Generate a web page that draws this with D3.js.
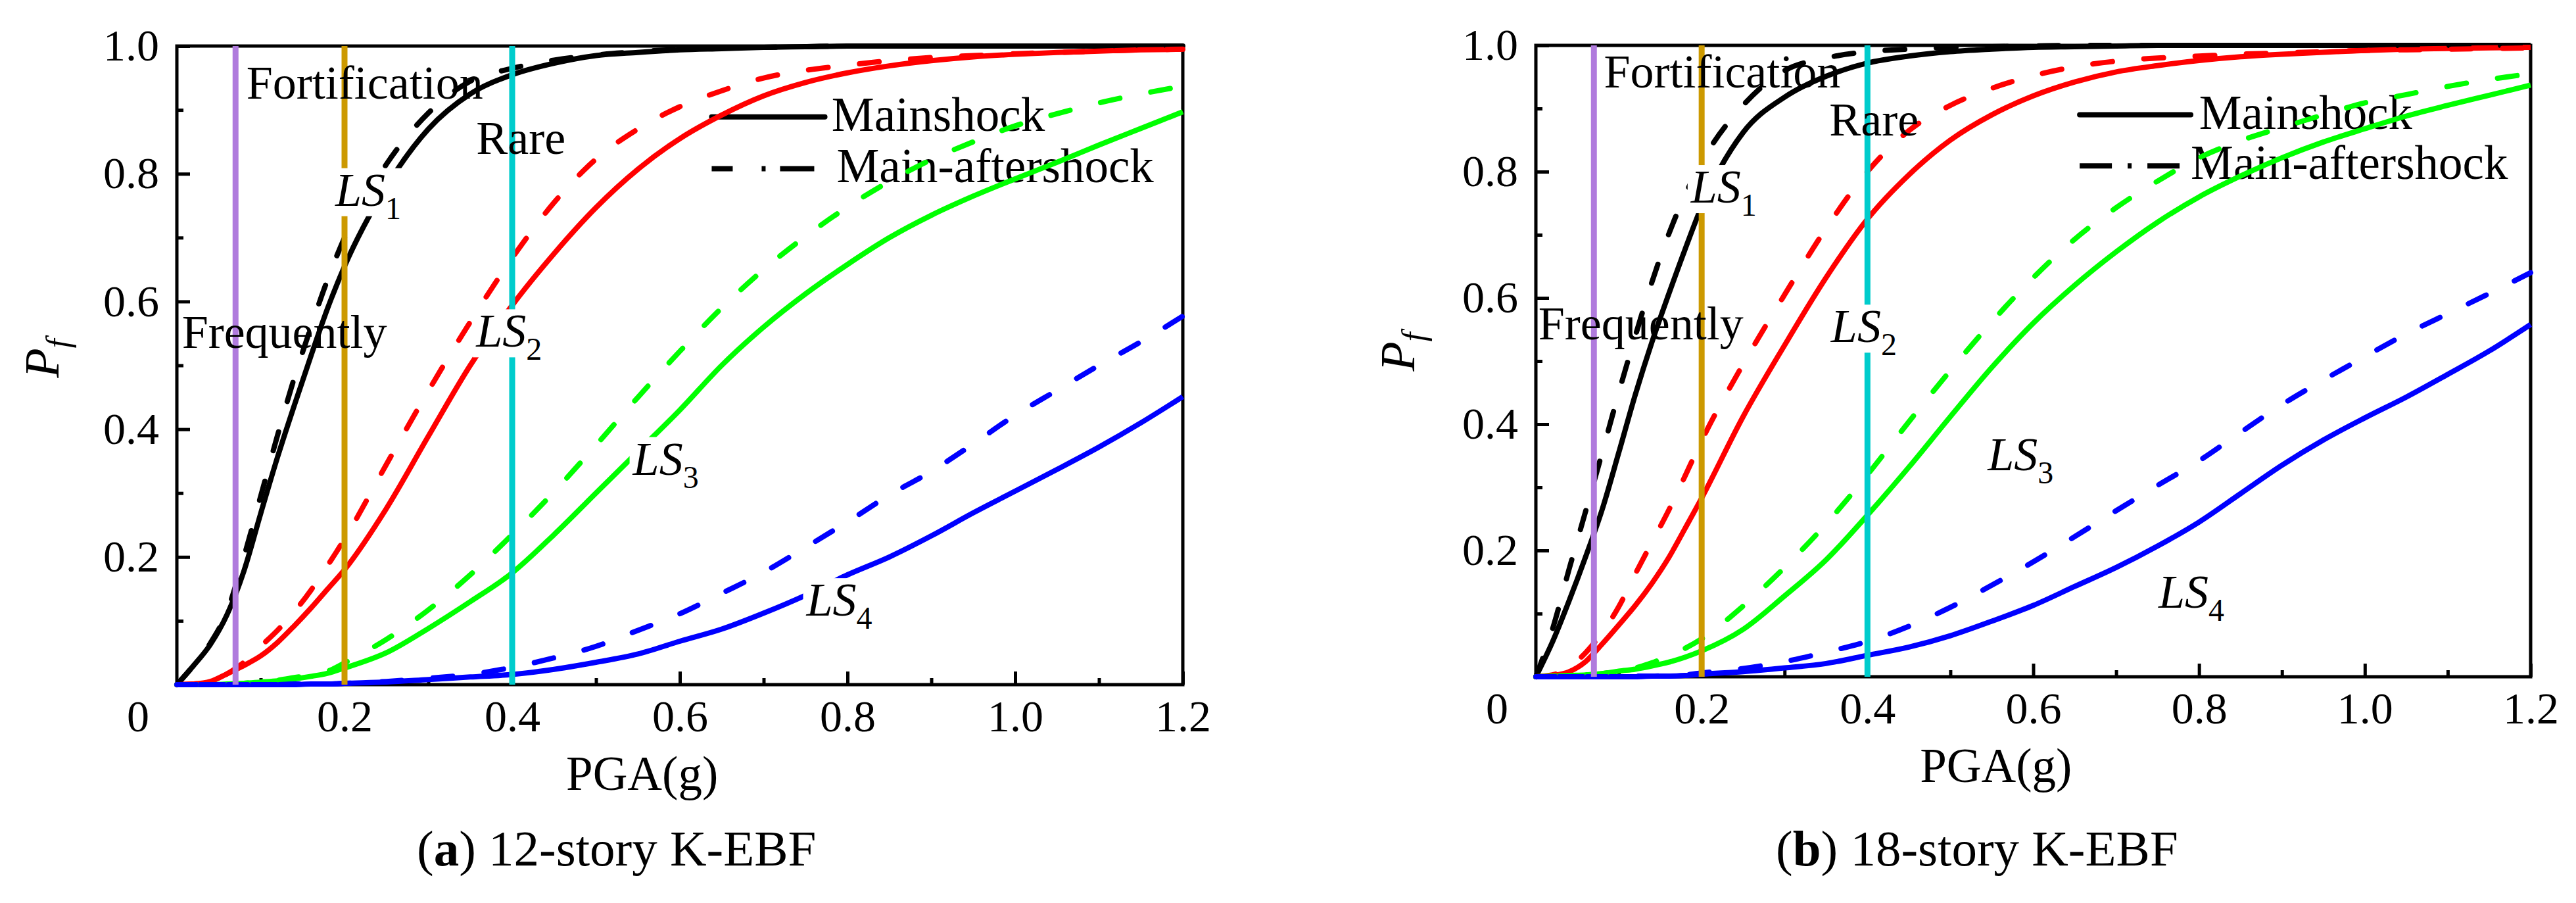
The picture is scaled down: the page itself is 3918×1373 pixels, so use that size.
<!DOCTYPE html>
<html>
<head>
<meta charset="utf-8">
<script src="https://cdn.jsdelivr.net/npm/d3@7"></script>
<style>
  html, body { margin: 0; padding: 0; background: #fff; }
  svg { display: block; }
  text { font-family: "Liberation Serif", "Times New Roman", serif; fill: #000; }
</style>
</head>
<body>
<svg id="chart" width="3918" height="1373"></svg>
<script>
// PGA grid (g) shared by every fragility curve
const pga = [0, 0.02, 0.04, 0.06, 0.08, 0.1, 0.12, 0.14, 0.16, 0.18, 0.2, 0.25, 0.3, 0.35, 0.4,
  0.45, 0.5, 0.55, 0.6, 0.65, 0.7, 0.75, 0.8, 0.85, 0.9, 0.95, 1.0, 1.05, 1.1, 1.15, 1.2];

// (a) 12-story K-EBF, exceedance probability
const a_ls1_main = [0, .03, .063, .11, .178, .268, .356, .437, .515, .59, .655, .78, .87, .925, .955, .973, .985, .99, .994, .996, .998, .999, 1, 1, 1, 1, 1, 1, 1, 1, 1];
const a_ls1_ma   = [0, .03, .065, .115, .2, .295, .39, .48, .56, .635, .70, .815, .895, .945, .965, .978, .986, .991, .995, .997, .998, .999, 1, 1, 1, 1, 1, 1, 1, 1, 1];
const a_ls2_main = [0, .001, .005, .017, .03, .045, .066, .092, .12, .15, .18, .276, .389, .5, .594, .675, .747, .807, .855, .892, .922, .943, .958, .969, .977, .983, .987, .99, .992, .994, .995];
const a_ls2_ma   = [0, .001, .005, .017, .035, .06, .085, .114, .148, .187, .228, .345, .46, .568, .668, .755, .823, .87, .905, .93, .95, .962, .97, .977, .982, .985, .988, .99, .992, .994, .995];
const a_ls3_main = [0, 0, 0, .001, .002, .004, .006, .009, .013, .018, .026, .05, .088, .13, .175, .235, .30, .365, .43, .50, .56, .612, .658, .70, .735, .765, .792, .818, .845, .871, .897];
const a_ls3_ma   = [0, 0, 0, .001, .002, .005, .007, .011, .015, .021, .034, .071, .117, .172, .235, .302, .375, .45, .522, .59, .65, .702, .748, .788, .822, .85, .875, .894, .911, .925, .937];
const a_ls4_main = [0, 0, 0, 0, 0, 0, 0, 0, .001, .001, .002, .004, .008, .012, .016, .024, .035, .048, .068, .087, .112, .14, .172, .2, .233, .269, .303, .337, .372, .41, .451];
const a_ls4_ma   = [0, 0, 0, 0, 0, 0, 0, .001, .001, .001, .002, .005, .01, .016, .027, .042, .06, .085, .111, .143, .176, .215, .255, .297, .334, .377, .422, .461, .5, .537, .577];

// (b) 18-story K-EBF
const b_ls1_main = [0, .055, .12, .19, .265, .355, .447, .53, .605, .677, .745, .862, .918, .951, .972, .983, .99, .994, .997, .998, .999, 1, 1, 1, 1, 1, 1, 1, 1, 1, 1];
const b_ls1_ma   = [0, .075, .17, .262, .355, .45, .54, .625, .70, .763, .815, .905, .96, .98, .99, .994, .997, .998, .999, 1, 1, 1, 1, 1, 1, 1, 1, 1, 1, 1, 1];
const b_ls2_main = [0, .002, .008, .024, .052, .082, .113, .148, .188, .235, .283, .412, .525, .632, .725, .795, .85, .89, .92, .942, .958, .968, .976, .982, .986, .989, .992, .994, .995, .996, .997];
const b_ls2_ma   = [0, .003, .015, .038, .07, .111, .163, .213, .263, .318, .374, .495, .605, .71, .80, .865, .905, .932, .952, .966, .975, .98, .983, .986, .988, .99, .992, .993, .994, .995, .996];
const b_ls3_main = [0, .001, .002, .003, .005, .009, .012, .017, .023, .031, .041, .075, .128, .185, .256, .332, .412, .49, .56, .62, .673, .72, .76, .793, .822, .847, .868, .888, .905, .921, .937];
const b_ls3_ma   = [0, .001, .002, .003, .005, .01, .014, .022, .033, .045, .06, .112, .173, .242, .32, .404, .485, .562, .632, .693, .743, .785, .822, .849, .87, .89, .909, .922, .935, .946, .955];
const b_ls4_main = [0, 0, 0, 0, 0, 0, 0, .001, .001, .002, .004, .008, .014, .021, .034, .047, .065, .088, .113, .143, .173, .207, .245, .29, .335, .375, .41, .443, .479, .516, .558];
const b_ls4_ma   = [0, 0, 0, 0, 0, 0, .001, .001, .002, .003, .006, .013, .024, .039, .056, .08, .11, .145, .182, .222, .263, .303, .342, .387, .431, .47, .507, .543, .575, .607, .64];

// seismic hazard levels (g) and their names
const hazardPGA = [0.07, 0.2, 0.4];
const hazardNames = ["Frequently", "Fortification", "Rare"];
const limitStates = ["1", "2", "3", "4"];
const legendNames = ["Mainshock", "Main-aftershock"];

// tick values
const xMajor = [0.2, 0.4, 0.6, 0.8, 1.0, 1.2];
const xMinor = [0.1, 0.3, 0.5, 0.7, 0.9, 1.1];
const yMajor = [0.2, 0.4, 0.6, 0.8, 1.0];
const yMinor = [0.1, 0.3, 0.5, 0.7, 0.9];

const lsColors = ["#000000", "#ff0000", "#00ff00", "#0000ff"];
const hazardColors = ["#b07bdd", "#cc9900", "#00cccc"];
const serif = "'Liberation Serif', 'Times New Roman', serif";

const panels = [
  {
    tag: "a", title: "12-story K-EBF",
    left: 269, right: 1799, top: 70, bottom: 1041,
    main: [a_ls1_main, a_ls2_main, a_ls3_main, a_ls4_main],
    ma: [a_ls1_ma, a_ls2_ma, a_ls3_ma, a_ls4_ma],
    hazardText: [[0.006, 0.527], [0.083, 0.918], [0.357, 0.831]],
    lsText: [[0.189, 0.75], [0.357, 0.529], [0.544, 0.329], [0.751, 0.108]],
    legend: { x1: 0.638, x2: 0.773, y1: 0.889, y2: 0.808, tx1: 0.781, ty1: 0.867, tx2: 0.787, ty2: 0.787,
              dash: "32,44,6,22,52" },
    yTitle: [89, 545]
  },
  {
    tag: "b", title: "18-story K-EBF",
    left: 2336, right: 3849, top: 69, bottom: 1029,
    main: [b_ls1_main, b_ls2_main, b_ls3_main, b_ls4_main],
    ma: [b_ls1_ma, b_ls2_ma, b_ls3_ma, b_ls4_ma],
    hazardText: [[0.003, 0.534], [0.082, 0.933], [0.354, 0.857]],
    lsText: [[0.187, 0.751], [0.356, 0.53], [0.545, 0.327], [0.751, 0.109]],
    legend: { x1: 0.656, x2: 0.79, y1: 0.89, y2: 0.809, tx1: 0.80, ty1: 0.868, tx2: 0.79, ty2: 0.789,
              dash: "49,24,6,24,49" },
    yTitle: [2151, 535]
  }
];

const svg = d3.select("#chart");

function drawPanel(p) {
  const x = d3.scaleLinear().domain([0, 1.2]).range([p.left, p.right]);
  const y = d3.scaleLinear().domain([0, 1]).range([p.bottom, p.top]);
  const g = svg.append("g");

  // legend sits under the curves
  const lg = g.append("g");
  lg.append("line")
    .attr("x1", x(p.legend.x1)).attr("x2", x(p.legend.x2))
    .attr("y1", y(p.legend.y1)).attr("y2", y(p.legend.y1))
    .attr("stroke", "#000").attr("stroke-width", 8).attr("stroke-linecap", "round");
  lg.append("line")
    .attr("x1", x(p.legend.x1)).attr("x2", x(p.legend.x2))
    .attr("y1", y(p.legend.y2)).attr("y2", y(p.legend.y2))
    .attr("stroke", "#000").attr("stroke-width", 8)
    .attr("stroke-dasharray", p.legend.dash);
  lg.append("text").attr("x", x(p.legend.tx1)).attr("y", y(p.legend.ty1))
    .style("font-family", serif).style("font-size", "73px").text(legendNames[0]);
  lg.append("text").attr("x", x(p.legend.tx2)).attr("y", y(p.legend.ty2))
    .style("font-family", serif).style("font-size", "73px").text(legendNames[1]);

  // frame
  g.append("rect")
    .attr("x", x(0)).attr("y", y(1))
    .attr("width", x(1.2) - x(0)).attr("height", y(0) - y(1))
    .attr("fill", "none").attr("stroke", "#000").attr("stroke-width", 5);

  // axes with inward ticks
  g.append("g").attr("transform", `translate(0,${y(0)})`)
    .call(d3.axisBottom(x).tickValues(xMajor).tickSizeInner(-20).tickSizeOuter(0)
      .tickPadding(23).tickFormat(d3.format(".1f")));
  g.append("g").attr("transform", `translate(0,${y(0)})`)
    .call(d3.axisBottom(x).tickValues(xMinor).tickSizeInner(-10).tickSizeOuter(0).tickFormat(""));
  g.append("g").attr("transform", `translate(${x(0)},0)`)
    .call(d3.axisLeft(y).tickValues(yMajor).tickSizeInner(-20).tickSizeOuter(0)
      .tickPadding(27).tickFormat(d3.format(".1f")));
  g.append("g").attr("transform", `translate(${x(0)},0)`)
    .call(d3.axisLeft(y).tickValues(yMinor).tickSizeInner(-10).tickSizeOuter(0).tickFormat(""));
  g.selectAll(".domain").remove();
  g.selectAll(".tick line").attr("stroke", "#000").attr("stroke-width", 5);
  g.selectAll(".tick text")
    .style("font-family", serif).style("font-size", "68px").attr("fill", "#000");

  // shared origin label
  g.append("text").attr("x", x(0) - 59).attr("y", y(0) + 71)
    .attr("text-anchor", "middle").style("font-family", serif).style("font-size", "68px").text("0");

  // fragility curves
  const line = d3.line()
    .x((d, i) => x(pga[i]))
    .y(d => y(d))
    .curve(d3.curveMonotoneX);

  p.main.forEach((s, k) => {
    g.append("path").datum(s).attr("d", line)
      .attr("fill", "none").attr("stroke", lsColors[k]).attr("stroke-width", 8);
  });
  p.ma.forEach((s, k) => {
    g.append("path").datum(s).attr("d", line)
      .attr("fill", "none").attr("stroke", lsColors[k]).attr("stroke-width", 8)
      .attr("stroke-linecap", "round").attr("stroke-dasharray", "30,48");
  });

  // hazard level lines
  hazardPGA.forEach((v, k) => {
    g.append("line")
      .attr("x1", x(v)).attr("x2", x(v))
      .attr("y1", y(0)).attr("y2", y(1))
      .attr("stroke", hazardColors[k]).attr("stroke-width", 9);
  });
  hazardNames.forEach((n, k) => {
    g.append("text")
      .attr("x", x(p.hazardText[k][0])).attr("y", y(p.hazardText[k][1]))
      .style("font-family", serif).style("font-size", "72px").text(n);
  });

  // limit state labels on white boxes
  limitStates.forEach((ls, k) => {
    const tx = x(p.lsText[k][0]), ty = y(p.lsText[k][1]);
    const box = g.append("rect").attr("fill", "#fff");
    const t = g.append("text").attr("x", tx).attr("y", ty)
      .style("font-family", serif).style("font-size", "72px");
    t.append("tspan").style("font-style", "italic").text("LS");
    t.append("tspan").attr("dy", 20).style("font-size", "48px").text(ls);
    const bb = t.node().getBBox();
    box.attr("x", bb.x - 4).attr("y", ty - 57)
      .attr("width", bb.width + 8).attr("height", 73);
  });

  // y axis title
  const yt = g.append("text")
    .attr("transform", `translate(${p.yTitle[0]},${p.yTitle[1]}) rotate(-90)`)
    .attr("text-anchor", "middle").style("font-family", serif).style("font-size", "74px");
  yt.append("tspan").style("font-style", "italic").text("P");
  yt.append("tspan").attr("dy", 16).style("font-style", "italic").style("font-size", "50px").text("f");

  // x axis title
  g.append("text").attr("x", x(0.555)).attr("y", y(0) + 160)
    .attr("text-anchor", "middle").style("font-family", serif).style("font-size", "73px").text("PGA(g)");

  // caption
  const cap = g.append("text").attr("x", x(0) + 365).attr("y", 1316)
    .style("font-family", serif).style("font-size", "77px");
  cap.append("tspan").text("(");
  cap.append("tspan").style("font-weight", "bold").text(p.tag);
  cap.append("tspan").text(") " + p.title);
}

panels.forEach(drawPanel);
</script>
</body>
</html>
